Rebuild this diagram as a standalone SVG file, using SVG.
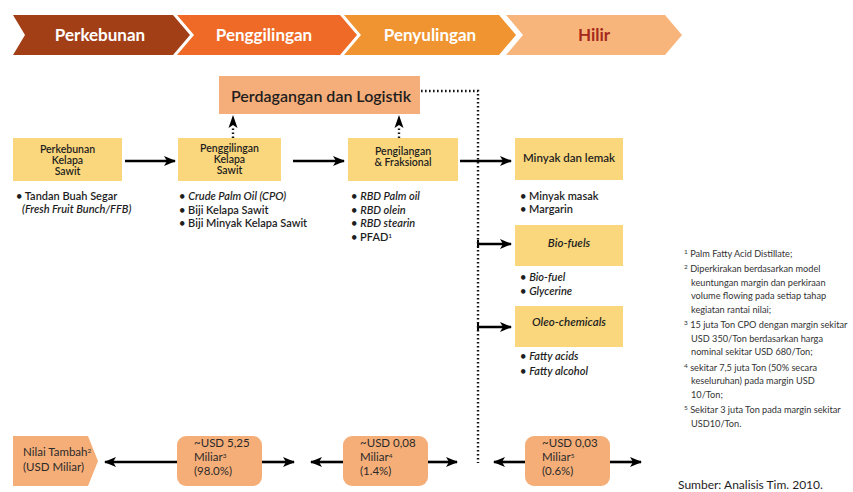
<svg xmlns="http://www.w3.org/2000/svg" width="853" height="492" viewBox="0 0 853 492">
<style>
text{font-family:Lato,"Liberation Sans",sans-serif;fill:#1e1e1e}
.chev{font-size:17px;font-weight:bold;fill:#fff;text-anchor:middle}
.yb{fill:#FAD77D}
.pb{fill:#F6AE78}
.bl{font-size:10.5px;font-weight:600;text-anchor:middle}
.bt{font-size:11px;font-weight:600}
.it{font-style:italic}
.fn{font-size:9.2px;fill:#333}
.sup{font-size:6.5px}
.val{font-size:11.5px;fill:#2a2a2a}
.ln{stroke:#000;stroke-width:2.6;fill:none}
.dot{stroke:#111;stroke-width:2.4;stroke-dasharray:1.6 2.4;fill:none}
</style>
<defs>
<marker id="ah" viewBox="0 0 12 10" refX="11" refY="5" markerWidth="12" markerHeight="10" markerUnits="userSpaceOnUse" orient="auto">
<path d="M0,0 L12,5 L0,10 L3,5 z" fill="#000"/>
</marker>
</defs>

<!-- Stage chevrons -->
<g id="stage-perkebunan">
<polygon points="13,15 173,15 190,35 173,55 13,55 25,35" fill="#A33F17"/>
<text class="chev" x="100" y="41">Perkebunan</text>
</g>
<g id="stage-penggilingan">
<polygon points="177,15 340,15 357,35 340,55 177,55 194,35" fill="#EE6A26"/>
<text class="chev" x="264" y="41">Penggilingan</text>
</g>
<g id="stage-penyulingan">
<polygon points="344,15 499,15 516,35 499,55 344,55 361,35" fill="#EF9430"/>
<text class="chev" x="430" y="41">Penyulingan</text>
</g>
<g id="stage-hilir">
<polygon points="506,15 665,15 682,35 665,55 506,55 523,35" fill="#F7B57C"/>
<text class="chev" x="594" y="41" style="fill:#A5281B">Hilir</text>
</g>

<!-- Trade and logistics -->
<g id="perdagangan">
<rect x="219" y="76" width="201" height="38" fill="#F5AD79"/>
<text x="321" y="102" text-anchor="middle" font-size="16" font-weight="600">Perdagangan dan Logistik</text>
</g>

<!-- Value chain nodes -->
<g id="perkebunan-kelapa-sawit">
<rect class="yb" x="13" y="138" width="109" height="43"/>
<text class="bl" x="67.5" y="153">Perkebunan</text>
<text class="bl" x="67.5" y="164">Kelapa</text>
<text class="bl" x="67.5" y="175">Sawit</text>
<text class="bt" x="16" y="200">• Tandan Buah Segar</text>
<text class="bt it" x="22" y="213">(Fresh Fruit Bunch/FFB)</text>
</g>
<g id="penggilingan-kelapa-sawit">
<rect class="yb" x="178" y="138" width="103" height="43"/>
<text class="bl" x="229.5" y="152">Penggilingan</text>
<text class="bl" x="229.5" y="163">Kelapa</text>
<text class="bl" x="229.5" y="174">Sawit</text>
<text class="bt" x="179" y="200">• <tspan class="it">Crude Palm Oil (CPO)</tspan></text>
<text class="bt" x="179" y="213.5">• Biji Kelapa Sawit</text>
<text class="bt" x="179" y="227">• Biji Minyak Kelapa Sawit</text>
</g>
<g id="pengilangan-fraksional">
<rect class="yb" x="348" y="138" width="110" height="43"/>
<text class="bl" x="403" y="155">Pengilangan</text>
<text class="bl" x="403" y="166">&amp; Fraksional</text>
<text class="bt" x="351" y="200">• <tspan class="it">RBD Palm oil</tspan></text>
<text class="bt" x="351" y="213.5">• <tspan class="it">RBD olein</tspan></text>
<text class="bt" x="351" y="227">• <tspan class="it">RBD stearin</tspan></text>
<text class="bt" x="351" y="240.5">• PFAD<tspan class="sup" baseline-shift="super">1</tspan></text>
</g>
<g id="minyak-dan-lemak">
<rect class="yb" x="515" y="138" width="108" height="42"/>
<text class="bl" x="569" y="162" style="font-size:11.5px">Minyak dan lemak</text>
<text class="bt" x="520" y="200">• Minyak masak</text>
<text class="bt" x="520" y="213">• Margarin</text>
</g>
<g id="bio-fuels">
<rect class="yb" x="515" y="225" width="108" height="41"/>
<text class="bl it" x="569" y="247" style="font-size:11.5px">Bio-fuels</text>
<text class="bt" x="520" y="281">• <tspan class="it">Bio-fuel</tspan></text>
<text class="bt" x="520" y="295">• <tspan class="it">Glycerine</tspan></text>
</g>
<g id="oleo-chemicals">
<rect class="yb" x="515" y="306" width="108" height="41"/>
<text class="bl it" x="569" y="326" style="font-size:11.5px">Oleo-chemicals</text>
<text class="bt" x="520" y="360">• <tspan class="it">Fatty acids</tspan></text>
<text class="bt" x="520" y="374.5">• <tspan class="it">Fatty alcohol</tspan></text>
</g>

<!-- Value added row -->
<g id="nilai-tambah">
<polygon points="13,436 88,436 98,461 88,486 13,486" fill="#F6AE78"/>
<text class="val" x="23" y="456">Nilai Tambah<tspan class="sup" baseline-shift="super">2</tspan></text>
<text class="val" x="23" y="471">(USD Miliar)</text>
</g>
<g id="nilai-perkebunan">
<rect class="pb" x="177" y="436" width="85" height="50" rx="9"/>
<text class="val" x="194" y="447">~USD 5,25</text>
<text class="val" x="194" y="461">Miliar<tspan class="sup" baseline-shift="super">3</tspan></text>
<text class="val" x="194" y="475">(98.0%)</text>
</g>
<g id="nilai-penyulingan">
<rect class="pb" x="343" y="436" width="85" height="50" rx="9"/>
<text class="val" x="360" y="447">~USD 0,08</text>
<text class="val" x="360" y="461">Miliar<tspan class="sup" baseline-shift="super">4</tspan></text>
<text class="val" x="360" y="475">(1.4%)</text>
</g>
<g id="nilai-hilir">
<rect class="pb" x="525" y="436" width="85" height="50" rx="9"/>
<text class="val" x="542" y="447">~USD 0,03</text>
<text class="val" x="542" y="461">Miliar<tspan class="sup" baseline-shift="super">5</tspan></text>
<text class="val" x="542" y="475">(0.6%)</text>
</g>

<!-- Connectors -->
<g id="connectors">
<line class="ln" x1="125" y1="161" x2="175" y2="161" marker-end="url(#ah)"/>
<line class="ln" x1="293" y1="161" x2="344" y2="161" marker-end="url(#ah)"/>
<line class="ln" x1="460" y1="161" x2="511" y2="161" marker-end="url(#ah)"/>
<line class="ln" x1="478" y1="244" x2="511" y2="244" marker-end="url(#ah)"/>
<line class="ln" x1="478" y1="327" x2="511" y2="327" marker-end="url(#ah)"/>
<line x1="478" y1="240" x2="478" y2="248" stroke="#000" stroke-width="2"/>
<line x1="478" y1="323" x2="478" y2="331" stroke="#000" stroke-width="2"/>
<polyline class="dot" points="421,91 478,91 478,463"/>
<line class="dot" x1="233" y1="138" x2="233" y2="126"/>
<line class="dot" x1="399" y1="138" x2="399" y2="126"/>
<path d="M233,115 L237.5,128 L233,125 L228.5,128 z" fill="#000"/>
<path d="M399,115 L403.5,128 L399,125 L394.5,128 z" fill="#000"/>
<line class="ln" x1="177" y1="462" x2="105" y2="462" marker-end="url(#ah)"/>
<line class="ln" x1="262" y1="462" x2="294" y2="462" marker-end="url(#ah)"/>
<line class="ln" x1="343" y1="462" x2="311" y2="462" marker-end="url(#ah)"/>
<line class="ln" x1="428" y1="462" x2="457" y2="462" marker-end="url(#ah)"/>
<line class="ln" x1="525" y1="462" x2="494" y2="462" marker-end="url(#ah)"/>
<line class="ln" x1="610" y1="462" x2="641" y2="462" marker-end="url(#ah)"/>
</g>

<!-- Footnotes -->
<g id="footnotes">
<text class="fn" x="684" y="256.5"><tspan class="sup" baseline-shift="super">1</tspan> Palm Fatty Acid Distillate;</text>
<text class="fn" x="684" y="272"><tspan class="sup" baseline-shift="super">2</tspan> Diperkirakan berdasarkan model</text>
<text class="fn" x="691" y="285.5">keuntungan margin dan perkiraan</text>
<text class="fn" x="691" y="299">volume flowing pada setiap tahap</text>
<text class="fn" x="691" y="312.5">kegiatan rantai nilai;</text>
<text class="fn" x="684" y="328"><tspan class="sup" baseline-shift="super">3</tspan> 15 juta Ton CPO dengan margin sekitar</text>
<text class="fn" x="691" y="341.5">USD 350/Ton berdasarkan harga</text>
<text class="fn" x="691" y="355">nominal sekitar USD 680/Ton;</text>
<text class="fn" x="684" y="370.5"><tspan class="sup" baseline-shift="super">4</tspan> sekitar 7,5 juta Ton (50% secara</text>
<text class="fn" x="691" y="384">keseluruhan) pada margin USD</text>
<text class="fn" x="691" y="397.5">10/Ton;</text>
<text class="fn" x="684" y="413"><tspan class="sup" baseline-shift="super">5</tspan> Sekitar 3 juta Ton pada margin sekitar</text>
<text class="fn" x="691" y="426.5">USD10/Ton.</text>
<text x="678" y="489" font-size="12" fill="#333">Sumber: Analisis Tim. 2010.</text>
</g>
</svg>
